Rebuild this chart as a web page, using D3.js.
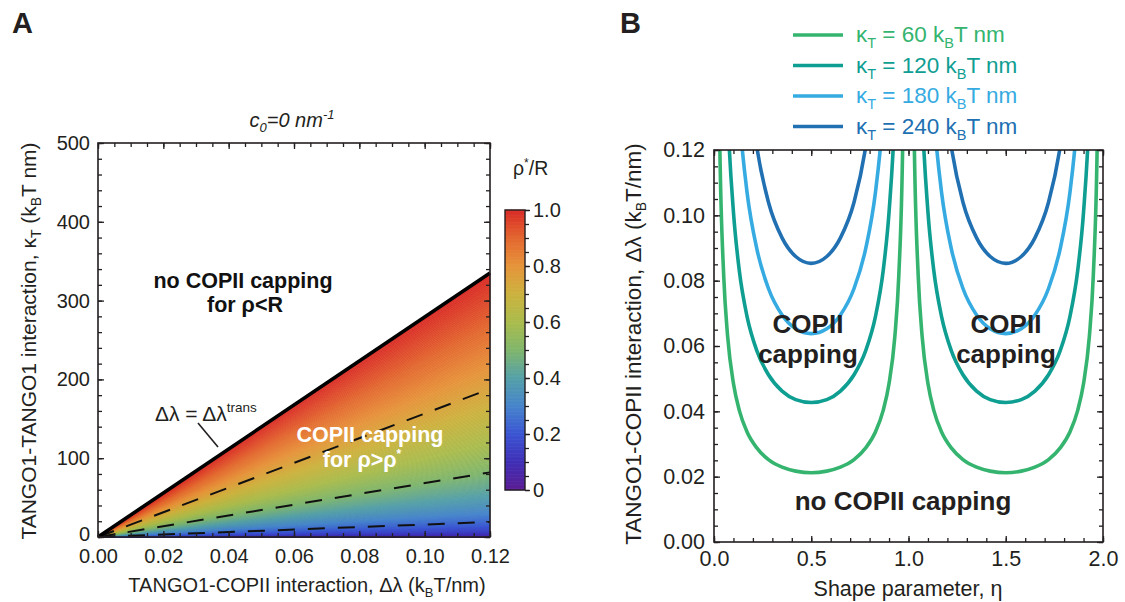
<!DOCTYPE html>
<html lang="en">
<head>
<meta charset="UTF-8">
<script src="https://cdnjs.cloudflare.com/ajax/libs/d3/7.8.5/d3.min.js"></script>
<style>
  body { margin: 0; background: #fff; }
  svg { font-family: "Liberation Sans", Arial, Helvetica, sans-serif; }
  .tick text { fill: #231f20; }
</style>
</head>
<body>
<svg id="chart" width="1125" height="602"></svg>
<script>
// ---- panel A data ----
var dLambdaMax = 0.12;                 // right edge of panel A
var kappaTransAtMax = 335;             // solid line, kappa at dLambda = 0.12
var contourLevels = [0.25, 0.5, 0.75]; // rho*/R of the dashed lines
var contourKappaAtMax = [19, 82, 188]; // dashed lines, kappa at dLambda = 0.12
var colorbarTicks = [0, 0.2, 0.4, 0.6, 0.8, 1.0];
var colorStops = [0, 0.1, 0.2, 0.3, 0.4, 0.5, 0.6, 0.7, 0.8, 0.9, 1.0];
var colorValues = ["#5c1d94", "#3f2fb6", "#3b55d2", "#4684cc", "#55a0a8", "#80b66c",
                   "#aabc4c", "#ccb23e", "#e6943a", "#e3662f", "#d92b26"];

// ---- panel B data ----
var kappaValues = [60, 120, 180, 240];
var seriesColors = ["#35b46f", "#0f9e92", "#36abe1", "#2070b2"];
var etaGrid = [0.01, 0.02, 0.03, 0.05, 0.07, 0.10, 0.13, 0.17, 0.22, 0.28, 0.35, 0.42, 0.50,
               0.58, 0.65, 0.72, 0.78, 0.83, 0.87, 0.90, 0.93, 0.95, 0.97, 0.98, 0.99];
var lambda60 = [0.290, 0.167, 0.121, 0.0814, 0.0630, 0.0485, 0.0403, 0.0337, 0.0288, 0.0252, 0.0229, 0.0217, 0.0212,
                0.0217, 0.0229, 0.0252, 0.0288, 0.0337, 0.0403, 0.0485, 0.0630, 0.0814, 0.121, 0.167, 0.290];
var lambda120 = [null, 0.363, 0.260, 0.172, 0.132, 0.101, 0.0831, 0.0690, 0.0586, 0.0512, 0.0462, 0.0436, 0.0427,
                 0.0436, 0.0462, 0.0512, 0.0586, 0.0690, 0.0831, 0.101, 0.132, 0.172, 0.260, 0.363, null];
var lambda180 = [null, null, null, 0.289, 0.217, 0.162, 0.131, 0.107, 0.0898, 0.0776, 0.0695, 0.0653, 0.0638,
                 0.0653, 0.0695, 0.0776, 0.0898, 0.107, 0.131, 0.162, 0.217, 0.289, null, null, null];
var lambda240 = [null, null, null, null, null, 0.221, 0.178, 0.145, 0.121, 0.104, 0.0931, 0.0874, 0.0853,
                 0.0874, 0.0931, 0.104, 0.121, 0.145, 0.178, 0.221, null, null, null, null, null];
var periods = [0, 1];

var svg = d3.select("#chart");
var ink = "#231f20";

var color = d3.scaleLinear().domain(colorStops).range(colorValues).interpolate(d3.interpolateRgb);

// draws ticks on all four sides, pointing inwards, labels bottom and left
function drawFrame(g, x, y, opt) {
    var x0 = x.range()[0], x1 = x.range()[1], y0 = y.range()[0], y1 = y.range()[1];
    function ax(gen, scale, vals, size, fmt, tx, ty, pad) {
        var a = g.append("g").attr("transform", "translate(" + tx + "," + ty + ")")
            .call(gen(scale).tickValues(vals).tickSize(-size).tickPadding(pad)
                .tickFormat(fmt ? fmt : function () { return ""; }));
        a.select(".domain").remove();
        a.selectAll("line").attr("stroke", ink).attr("stroke-width", 1.3);
        a.selectAll("text").style("font-size", opt.tickFont + "px");
        return a;
    }
    [[d3.axisBottom, x, x0, y0, 0], [d3.axisTop, x, 0, y1, 0]].forEach(function (s, i) {
        ax(s[0], s[1], opt.xMinor, 4, null, 0, s[3], 0);
        ax(s[0], s[1], opt.xMajor, 6, i === 0 ? opt.xFmt : null, 0, s[3], opt.xPad);
    });
    [[d3.axisLeft, x0], [d3.axisRight, x1]].forEach(function (s, i) {
        ax(s[0], y, opt.yMinor, 4, null, s[1], 0, 0);
        var a = ax(s[0], y, opt.yMajor, 6, i === 0 ? opt.yFmt : null, s[1], 0, opt.yPad);
        // lift the lowest y label a little so it clears the x labels
        if (i === 0 && opt.yZeroLift) {
            a.selectAll(".tick text").filter(function (d) { return d === 0; })
                .attr("y", -opt.yZeroLift);
        }
    });
    g.append("rect").attr("x", x0).attr("y", y1).attr("width", x1 - x0).attr("height", y0 - y1)
        .attr("fill", "none").attr("stroke", ink).attr("stroke-width", 1.6);
}

// ================= Panel A =================
var xA = d3.scaleLinear().domain([0, dLambdaMax]).range([98, 490]);
var yA = d3.scaleLinear().domain([0, 500]).range([537, 143]);
var gA = svg.append("g");

// colour field: rho*/R is constant along rays from the origin, kappa = kappaTrans * (rho*/R)^2
var nWedge = 240;
var wedges = d3.range(nWedge).map(function (i) { return [i / nWedge, (i + 1) / nWedge]; });
gA.selectAll("path.wedge").data(wedges).join("path")
    .attr("class", "wedge")
    .attr("d", function (w) {
        return "M" + xA(0) + "," + yA(0) +
            "L" + xA(dLambdaMax) + "," + yA(kappaTransAtMax * w[0] * w[0]) +
            "L" + xA(dLambdaMax) + "," + yA(kappaTransAtMax * w[1] * w[1]) + "Z";
    })
    .attr("fill", function (w) { return color((w[0] + w[1]) / 2); })
    .attr("stroke", function (w) { return color((w[0] + w[1]) / 2); })
    .attr("stroke-width", 0.6);

// dashed contours
gA.selectAll("line.contour").data(contourLevels).join("line")
    .attr("class", "contour")
    .attr("x1", xA(0)).attr("y1", yA(0))
    .attr("x2", xA(dLambdaMax)).attr("y2", function (d, i) { return yA(contourKappaAtMax[i]); })
    .attr("stroke", "#111").attr("stroke-width", 2).attr("stroke-dasharray", "17,13");

// transition line
gA.append("line")
    .attr("x1", xA(0)).attr("y1", yA(0))
    .attr("x2", xA(dLambdaMax)).attr("y2", yA(kappaTransAtMax))
    .attr("stroke", "#000").attr("stroke-width", 3.6);

drawFrame(gA, xA, yA, {
    xMajor: d3.range(0, 0.1201, 0.02), xMinor: d3.range(0, 0.1201, 0.005),
    yMajor: d3.range(0, 501, 100), yMinor: d3.range(0, 501, 20),
    xFmt: d3.format(".2f"), yFmt: d3.format("d"), tickFont: 20, xPad: 12, yPad: 8, yZeroLift: 3
});

// axis labels A
var lblA = gA.append("text").attr("x", 307).attr("y", 592).attr("text-anchor", "middle")
    .style("font-size", "20px").attr("fill", ink);
lblA.append("tspan").text("TANGO1-COPII interaction, \u0394\u03bb (k");
lblA.append("tspan").text("B").style("font-size", "13px").attr("dy", 5);
lblA.append("tspan").text("T/nm)").attr("dy", -5);

var ylA = gA.append("text").attr("transform", "translate(36,341) rotate(-90)").attr("text-anchor", "middle")
    .style("font-size", "21px").attr("fill", ink);
ylA.append("tspan").text("TANGO1-TANGO1 interaction, \u03ba");
ylA.append("tspan").text("T").style("font-size", "14px").attr("dy", 5);
ylA.append("tspan").text(" (k").attr("dy", -5);
ylA.append("tspan").text("B").style("font-size", "14px").attr("dy", 5);
ylA.append("tspan").text("T nm)").attr("dy", -5);

// title
var tA = gA.append("text").attr("x", 292).attr("y", 127).attr("text-anchor", "middle")
    .style("font-size", "20px").style("font-style", "italic").attr("fill", ink);
tA.append("tspan").text("c");
tA.append("tspan").text("0").style("font-size", "13px").attr("dy", 5);
tA.append("tspan").text("=0 nm").attr("dy", -5);
tA.append("tspan").text("-1").style("font-size", "13px").attr("dy", -8);

// annotations
gA.append("text").attr("x", 243).attr("y", 288).attr("text-anchor", "middle")
    .style("font-size", "21.5px").style("font-weight", "bold").attr("fill", "#111").text("no COPII capping");
gA.append("text").attr("x", 245).attr("y", 312).attr("text-anchor", "middle")
    .style("font-size", "21.5px").style("font-weight", "bold").attr("fill", "#111").text("for \u03c1<R");
gA.append("text").attr("x", 370).attr("y", 442).attr("text-anchor", "middle")
    .style("font-size", "21.5px").style("font-weight", "bold").attr("fill", "#fff").text("COPII capping");
var fr = gA.append("text").attr("x", 362).attr("y", 467).attr("text-anchor", "middle")
    .style("font-size", "21.5px").style("font-weight", "bold").attr("fill", "#fff");
fr.append("tspan").text("for \u03c1>\u03c1");
fr.append("tspan").text("*").style("font-size", "12px").attr("dy", -9);

var tr = gA.append("text").attr("x", 155).attr("y", 421).style("font-size", "21px").attr("fill", ink);
tr.append("tspan").text("\u0394\u03bb = \u0394\u03bb");
tr.append("tspan").text("trans").style("font-size", "13.5px").attr("dy", -9);
gA.append("line").attr("x1", 198).attr("y1", 423).attr("x2", 218).attr("y2", 447)
    .attr("stroke", ink).attr("stroke-width", 1.6);

// colour bar
var cbY = d3.scaleLinear().domain([0, 1]).range([490, 210]);
var cbX0 = 505, cbX1 = 525;
var cbSteps = d3.range(0, 1, 0.005);
gA.selectAll("rect.cb").data(cbSteps).join("rect")
    .attr("class", "cb")
    .attr("x", cbX0).attr("width", cbX1 - cbX0)
    .attr("y", function (d) { return cbY(d + 0.005) - 0.3; })
    .attr("height", function (d) { return cbY(d) - cbY(d + 0.005) + 0.6; })
    .attr("fill", function (d) { return color(d + 0.0025); });
gA.append("rect").attr("x", cbX0).attr("y", 210).attr("width", cbX1 - cbX0).attr("height", 280)
    .attr("fill", "none").attr("stroke", ink).attr("stroke-width", 1.4);
var cbMinor = gA.append("g").attr("transform", "translate(" + cbX1 + ",0)")
    .call(d3.axisRight(cbY).tickValues(d3.range(0, 1.001, 0.05)).tickSize(4).tickFormat(""));
cbMinor.select(".domain").remove();
cbMinor.selectAll("line").attr("stroke", ink).attr("stroke-width", 1.3);
var cbAx = gA.append("g").attr("transform", "translate(" + cbX1 + ",0)")
    .call(d3.axisRight(cbY).tickValues(colorbarTicks).tickSize(5).tickPadding(3)
        .tickFormat(function (d) { return d === 0 ? "0" : d3.format(".1f")(d); }));
cbAx.select(".domain").remove();
cbAx.selectAll("line").attr("stroke", ink).attr("stroke-width", 1.3);
cbAx.selectAll("text").style("font-size", "20px");
var cbT = gA.append("text").attr("x", 513).attr("y", 175).style("font-size", "19.5px").attr("fill", ink);
cbT.append("tspan").text("\u03c1");
cbT.append("tspan").text("*").style("font-size", "12px").attr("dy", -8);
cbT.append("tspan").text("/R").attr("dy", 8);

// panel letter
svg.append("text").attr("x", 12).attr("y", 33).style("font-size", "29px").style("font-weight", "bold")
    .attr("fill", ink).text("A");

// ================= Panel B =================
var xB = d3.scaleLinear().domain([0, 2]).range([714, 1103]);
var yB = d3.scaleLinear().domain([0, 0.12]).range([542, 150]);
var gB = svg.append("g");

svg.append("defs").append("clipPath").attr("id", "clipB").append("rect")
    .attr("x", 714).attr("y", 150).attr("width", 389).attr("height", 392);

var seriesB = [lambda60, lambda120, lambda180, lambda240];
var line = d3.line()
    .defined(function (d) { return d[1] !== null; })
    .x(function (d) { return xB(d[0]); })
    .y(function (d) { return yB(d[1]); })
    .curve(d3.curveMonotoneX);

var curves = gB.append("g").attr("clip-path", "url(#clipB)");
seriesB.forEach(function (vals, si) {
    periods.forEach(function (p) {
        var pts = etaGrid.map(function (e, i) { return [e + p, vals[i]]; });
        curves.append("path").datum(pts).attr("d", line)
            .attr("fill", "none").attr("stroke", seriesColors[si]).attr("stroke-width", 3.6);
    });
});

drawFrame(gB, xB, yB, {
    xMajor: [0, 0.5, 1, 1.5, 2], xMinor: d3.range(0, 2.001, 0.1),
    yMajor: d3.range(0, 0.1201, 0.02), yMinor: d3.range(0, 0.1201, 0.005),
    xFmt: d3.format(".1f"), yFmt: d3.format(".2f"), tickFont: 21.5, xPad: 9, yPad: 9
});

// annotations B
[808, 1006].forEach(function (cx) {
    gB.append("text").attr("x", cx).attr("y", 333).attr("text-anchor", "middle")
        .style("font-size", "26px").style("font-weight", "bold").attr("fill", ink).text("COPII");
    gB.append("text").attr("x", cx).attr("y", 363).attr("text-anchor", "middle")
        .style("font-size", "26px").style("font-weight", "bold").attr("fill", ink).text("capping");
});
gB.append("text").attr("x", 903).attr("y", 510).attr("text-anchor", "middle")
    .style("font-size", "26px").style("font-weight", "bold").attr("fill", ink).text("no COPII capping");

// axis labels B
gB.append("text").attr("x", 908).attr("y", 596).attr("text-anchor", "middle")
    .style("font-size", "21.5px").attr("fill", ink).text("Shape parameter, \u03b7");
var ylB = gB.append("text").attr("transform", "translate(641,344) rotate(-90)").attr("text-anchor", "middle")
    .style("font-size", "22.5px").attr("fill", ink);
ylB.append("tspan").text("TANGO1-COPII interaction, \u0394\u03bb (k");
ylB.append("tspan").text("B").style("font-size", "14px").attr("dy", 5);
ylB.append("tspan").text("T/nm)").attr("dy", -5);

// legend
var leg = gB.selectAll("g.leg").data(kappaValues).join("g").attr("class", "leg")
    .attr("transform", function (d, i) { return "translate(793," + (35 + i * 30.5) + ")"; });
leg.append("line").attr("x1", 0).attr("x2", 50).attr("y1", 0).attr("y2", 0)
    .attr("stroke", function (d, i) { return seriesColors[i]; }).attr("stroke-width", 3.6);
var lt = leg.append("text").attr("x", 63).attr("y", 7).style("font-size", "22.5px")
    .attr("fill", function (d, i) { return seriesColors[i]; });
lt.append("tspan").text("\u03ba");
lt.append("tspan").text("T").style("font-size", "14.5px").attr("dy", 6);
lt.append("tspan").text(function (d) { return " = " + d + " k"; }).attr("dy", -6);
lt.append("tspan").text("B").style("font-size", "14.5px").attr("dy", 6);
lt.append("tspan").text("T nm").attr("dy", -6);

svg.append("text").attr("x", 620).attr("y", 33).style("font-size", "29px").style("font-weight", "bold")
    .attr("fill", ink).text("B");
</script>
</body>
</html>
